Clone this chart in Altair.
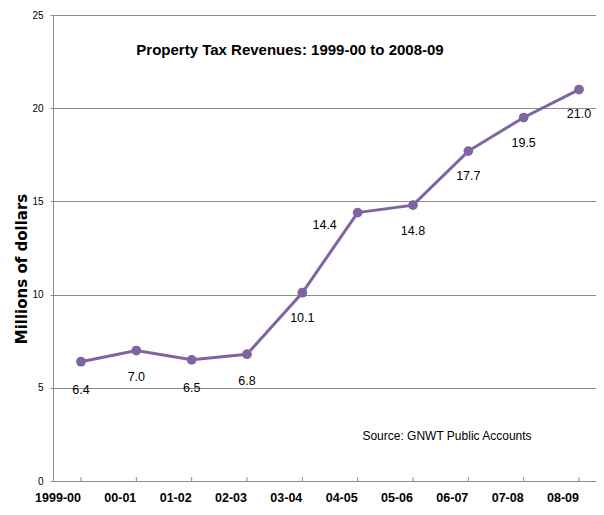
import altair as alt
import pandas as pd

years = ["1999-00", "00-01", "01-02", "02-03", "03-04", "04-05", "05-06", "06-07", "07-08", "08-09"]
revenue = [6.4, 7.0, 6.5, 6.8, 10.1, 14.4, 14.8, 17.7, 19.5, 21.0]
labels = ["6.4", "7.0", "6.5", "6.8", "10.1", "14.4", "14.8", "17.7", "19.5", "21.0"]
label_dx = [0, 0, 0, 0, 0, -33, 0, 0, 0, 0]
label_dy = [28, 26, 28, 27, 25, 12, 26, 25, 25, 24]

df = pd.DataFrame({"year": years, "rev": revenue, "lab": labels})

FONT = "Liberation Sans, Arial, sans-serif"
PURPLE = "#8064A2"
GRID = "#8c8c8c"
W, H = 543, 466

xscale = alt.Scale(range=[0.33, 553.67], paddingInner=0, paddingOuter=0)
x = alt.X("year:N", sort=years, title=None, scale=xscale,
          axis=alt.Axis(labelAngle=0, labelFont=FONT, labelFontWeight="bold",
                        labelFontSize=12.5, labelColor="#000", labelPadding=16,
                        ticks=False, domainColor=GRID, grid=False))
y = alt.Y("rev:Q", title=None, scale=alt.Scale(domain=[0, 25], nice=False),
          axis=alt.Axis(values=[0, 5, 10, 15, 20, 25], labelFont=FONT, labelFontSize=10,
                        labelColor="#000", tickSize=3, tickColor=GRID,
                        domainColor=GRID, gridColor=GRID, labelPadding=7))

base = alt.Chart(df)
line = base.mark_line(color=PURPLE, strokeWidth=3).encode(x=x, y=y)
pts = base.mark_point(color=PURPLE, filled=True, opacity=1, size=95, shape="circle").encode(x=x, y=y)

text_layers = []
for i in range(len(years)):
    sub = alt.Chart(df.iloc[[i]]).mark_text(
        font=FONT, fontSize=12.5, color="#000", dx=label_dx[i], dy=label_dy[i]
    ).encode(x=alt.X("year:N", sort=years, scale=xscale), y="rev:Q", text="lab:N")
    text_layers.append(sub)

ticks = base.mark_rule(color=GRID, strokeWidth=1).encode(
    x=alt.X("year:N", sort=years, scale=xscale), y=alt.value(H - 4), y2=alt.value(H))

title = alt.Chart(pd.DataFrame({"t": ["Property Tax Revenues: 1999-00 to 2008-09"]})).mark_text(
    font=FONT, fontSize=15, fontWeight="bold", color="#000", align="center", baseline="middle"
).encode(x=alt.value(237), y=alt.value(35), text="t:N")

source = alt.Chart(pd.DataFrame({"t": ["Source: GNWT Public Accounts"]})).mark_text(
    font=FONT, fontSize=12, color="#000", align="center", baseline="middle"
).encode(x=alt.value(394), y=alt.value(421), text="t:N")

ytitle = alt.Chart(pd.DataFrame({"t": ["Millions of dollars"]})).mark_text(
    font="DejaVu Sans, Verdana, sans-serif", fontSize=15, fontWeight="bold", color="#000",
    angle=270, align="center", baseline="middle"
).encode(x=alt.value(-31), y=alt.value(254), text="t:N")

chart = alt.layer(ticks, line, pts, *text_layers, title, source, ytitle).properties(
    width=W, height=H, padding={"left": 45, "top": 7, "right": 0, "bottom": 26},
    autosize=alt.AutoSizeParams(type="none")
).configure_view(stroke=None).configure_axis(domainWidth=1, gridWidth=1)

chart.save("out.html", embed_options={"renderer": "svg", "actions": False})
